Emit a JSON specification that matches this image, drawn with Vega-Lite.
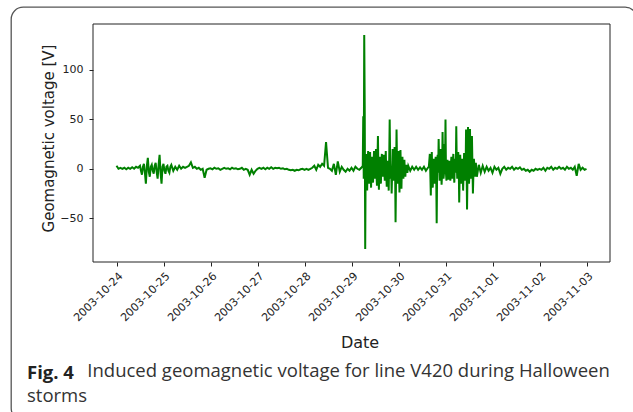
{
  "$schema": "https://vega.github.io/schema/vega-lite/v6.json",
  "width": 626,
  "height": 413,
  "autosize": {"type": "none"},
  "padding": {"left": 11, "top": 7, "right": -4, "bottom": -8},
  "background": "white",
  "config": {
    "view": {"stroke": "#555555", "strokeWidth": 1.3, "cornerRadius": 12},
    "font": "DejaVu Sans"
  },
  "title": {
    "text": "Fig. 4",
    "subtitle": ["\u200b\u2003\u2003\u2003\u00a0Induced geomagnetic voltage for line V420 during Halloween", "storms"],
    "orient": "bottom",
    "anchor": "start",
    "frame": "group",
    "offset": -56,
    "dx": 16,
    "font": "Open Sans",
    "fontSize": 18.5,
    "fontWeight": "bold",
    "color": "#222222",
    "subtitleFont": "Open Sans",
    "subtitleFontSize": 18.5,
    "subtitleFontWeight": "normal",
    "subtitleColor": "#333333",
    "subtitlePadding": -20.5,
    "subtitleLineHeight": 25,
    "baseline": "top"
  },
  "data": {"values": [
    {"t":"2003-10-24T00:00","v":3},{"t":"2003-10-24T01:00","v":0},{"t":"2003-10-24T02:00","v":1},{"t":"2003-10-24T03:00","v":0},
    {"t":"2003-10-24T04:00","v":1},{"t":"2003-10-24T05:00","v":-0.5},{"t":"2003-10-24T06:00","v":1},{"t":"2003-10-24T07:00","v":0},
    {"t":"2003-10-24T08:00","v":1.5},{"t":"2003-10-24T09:00","v":0},{"t":"2003-10-24T10:00","v":2},{"t":"2003-10-24T11:00","v":1},
    {"t":"2003-10-24T12:00","v":3},{"t":"2003-10-24T13:00","v":-6},{"t":"2003-10-24T14:00","v":5},{"t":"2003-10-24T15:00","v":-15},
    {"t":"2003-10-24T16:00","v":11},{"t":"2003-10-24T17:00","v":-8},{"t":"2003-10-24T18:00","v":4},{"t":"2003-10-24T19:00","v":-5},
    {"t":"2003-10-24T20:00","v":6},{"t":"2003-10-24T21:00","v":-10},{"t":"2003-10-24T22:00","v":14},{"t":"2003-10-24T23:00","v":-15},
    {"t":"2003-10-25T00:00","v":5},{"t":"2003-10-25T01:00","v":-5},{"t":"2003-10-25T02:00","v":3},{"t":"2003-10-25T03:00","v":-4},
    {"t":"2003-10-25T04:00","v":4},{"t":"2003-10-25T05:00","v":-2},{"t":"2003-10-25T06:00","v":2},{"t":"2003-10-25T07:00","v":-1},
    {"t":"2003-10-25T08:00","v":3},{"t":"2003-10-25T09:00","v":0},{"t":"2003-10-25T10:00","v":2},{"t":"2003-10-25T11:00","v":1},
    {"t":"2003-10-25T12:00","v":2},{"t":"2003-10-25T13:00","v":3},{"t":"2003-10-25T14:00","v":6.5},{"t":"2003-10-25T15:00","v":1},
    {"t":"2003-10-25T16:00","v":2},{"t":"2003-10-25T17:00","v":0},{"t":"2003-10-25T18:00","v":1},{"t":"2003-10-25T19:00","v":-1},
    {"t":"2003-10-25T20:00","v":0},{"t":"2003-10-25T21:00","v":-9},{"t":"2003-10-25T22:00","v":-1},{"t":"2003-10-25T23:00","v":0},
    {"t":"2003-10-26T00:00","v":0.5},{"t":"2003-10-26T01:00","v":-0.5},{"t":"2003-10-26T02:00","v":1},{"t":"2003-10-26T03:00","v":0},
    {"t":"2003-10-26T04:00","v":0.5},{"t":"2003-10-26T05:00","v":-1},{"t":"2003-10-26T06:00","v":0},{"t":"2003-10-26T07:00","v":1},
    {"t":"2003-10-26T08:00","v":0},{"t":"2003-10-26T09:00","v":0.5},{"t":"2003-10-26T10:00","v":-0.5},{"t":"2003-10-26T11:00","v":1},
    {"t":"2003-10-26T12:00","v":0},{"t":"2003-10-26T13:00","v":0.5},{"t":"2003-10-26T14:00","v":-0.5},{"t":"2003-10-26T15:00","v":0},
    {"t":"2003-10-26T16:00","v":1},{"t":"2003-10-26T17:00","v":-1},{"t":"2003-10-26T18:00","v":0},{"t":"2003-10-26T19:00","v":-1},
    {"t":"2003-10-26T20:00","v":-6},{"t":"2003-10-26T21:00","v":-1},{"t":"2003-10-26T22:00","v":-5},{"t":"2003-10-26T23:00","v":-2},
    {"t":"2003-10-27T00:00","v":0},{"t":"2003-10-27T01:00","v":1},{"t":"2003-10-27T02:00","v":0},{"t":"2003-10-27T03:00","v":1},
    {"t":"2003-10-27T04:00","v":-0.5},{"t":"2003-10-27T05:00","v":1},{"t":"2003-10-27T06:00","v":0},{"t":"2003-10-27T07:00","v":1.5},
    {"t":"2003-10-27T08:00","v":0},{"t":"2003-10-27T09:00","v":1},{"t":"2003-10-27T10:00","v":0.5},{"t":"2003-10-27T11:00","v":1},
    {"t":"2003-10-27T12:00","v":0},{"t":"2003-10-27T13:00","v":0.5},{"t":"2003-10-27T14:00","v":-0.5},{"t":"2003-10-27T15:00","v":0},
    {"t":"2003-10-27T16:00","v":-1},{"t":"2003-10-27T17:00","v":-1.5},{"t":"2003-10-27T18:00","v":-1},{"t":"2003-10-27T19:00","v":-2},
    {"t":"2003-10-27T20:00","v":-1},{"t":"2003-10-27T21:00","v":-1.5},{"t":"2003-10-27T22:00","v":-0.5},{"t":"2003-10-27T23:00","v":0},
    {"t":"2003-10-28T00:00","v":-1},{"t":"2003-10-28T01:00","v":0},{"t":"2003-10-28T02:00","v":-1},{"t":"2003-10-28T03:00","v":0},
    {"t":"2003-10-28T04:00","v":1},{"t":"2003-10-28T05:00","v":3},{"t":"2003-10-28T06:00","v":-1},{"t":"2003-10-28T07:00","v":4},
    {"t":"2003-10-28T08:00","v":2},{"t":"2003-10-28T09:00","v":5},{"t":"2003-10-28T10:00","v":3},{"t":"2003-10-28T11:00","v":27},
    {"t":"2003-10-28T12:00","v":1},{"t":"2003-10-28T13:00","v":0},{"t":"2003-10-28T14:00","v":-2},{"t":"2003-10-28T15:00","v":5},
    {"t":"2003-10-28T16:00","v":-6},{"t":"2003-10-28T17:00","v":7.5},{"t":"2003-10-28T18:00","v":-3},{"t":"2003-10-28T19:00","v":2},
    {"t":"2003-10-28T20:00","v":-1},{"t":"2003-10-28T21:00","v":-3},{"t":"2003-10-28T22:00","v":0},{"t":"2003-10-28T23:00","v":-2},
    {"t":"2003-10-29T00:00","v":1},{"t":"2003-10-29T01:00","v":-2},{"t":"2003-10-29T02:00","v":2},{"t":"2003-10-29T03:00","v":0},
    {"t":"2003-10-29T04:00","v":-1},{"t":"2003-10-29T05:00","v":1},{"t":"2003-10-29T05:45","v":3},{"t":"2003-10-29T06:00","v":53},
    {"t":"2003-10-29T06:15","v":-10},{"t":"2003-10-29T06:30","v":135},{"t":"2003-10-29T06:45","v":63},{"t":"2003-10-29T07:00","v":-81},
    {"t":"2003-10-29T07:15","v":10},{"t":"2003-10-29T07:30","v":-20},{"t":"2003-10-29T07:45","v":15},{"t":"2003-10-29T08:00","v":-22},
    {"t":"2003-10-29T08:30","v":18},{"t":"2003-10-29T09:00","v":-15},{"t":"2003-10-29T09:30","v":17},{"t":"2003-10-29T10:00","v":-19},
    {"t":"2003-10-29T10:30","v":12},{"t":"2003-10-29T11:00","v":-14},{"t":"2003-10-29T11:30","v":18},{"t":"2003-10-29T12:00","v":-10},
    {"t":"2003-10-29T12:30","v":20},{"t":"2003-10-29T13:00","v":-17},{"t":"2003-10-29T13:30","v":33},{"t":"2003-10-29T14:00","v":-21},
    {"t":"2003-10-29T14:30","v":12},{"t":"2003-10-29T15:00","v":-15},{"t":"2003-10-29T15:30","v":15},{"t":"2003-10-29T16:00","v":-8},
    {"t":"2003-10-29T16:30","v":14},{"t":"2003-10-29T17:00","v":-12},{"t":"2003-10-29T17:30","v":18},{"t":"2003-10-29T18:00","v":-18},
    {"t":"2003-10-29T18:30","v":8},{"t":"2003-10-29T19:00","v":-22},{"t":"2003-10-29T19:30","v":49.6},{"t":"2003-10-29T20:00","v":-10},
    {"t":"2003-10-29T20:30","v":-25},{"t":"2003-10-29T21:00","v":20},{"t":"2003-10-29T21:30","v":-12},{"t":"2003-10-29T22:00","v":22},
    {"t":"2003-10-29T22:30","v":-54},{"t":"2003-10-29T23:00","v":39.5},{"t":"2003-10-29T23:30","v":-15},
    {"t":"2003-10-30T00:00","v":18},{"t":"2003-10-30T00:30","v":-24},{"t":"2003-10-30T01:00","v":19},{"t":"2003-10-30T01:30","v":-20},
    {"t":"2003-10-30T02:00","v":12},{"t":"2003-10-30T02:30","v":-10},{"t":"2003-10-30T03:00","v":9},{"t":"2003-10-30T03:30","v":-8},
    {"t":"2003-10-30T04:00","v":4},{"t":"2003-10-30T04:30","v":-4},{"t":"2003-10-30T05:00","v":3},{"t":"2003-10-30T06:00","v":-2},
    {"t":"2003-10-30T07:00","v":2},{"t":"2003-10-30T08:00","v":-1},{"t":"2003-10-30T09:00","v":2},{"t":"2003-10-30T10:00","v":-1},
    {"t":"2003-10-30T11:00","v":1.5},{"t":"2003-10-30T12:00","v":-1},{"t":"2003-10-30T13:00","v":2},{"t":"2003-10-30T14:00","v":-2},
    {"t":"2003-10-30T15:00","v":1},{"t":"2003-10-30T15:30","v":2},{"t":"2003-10-30T16:00","v":15},{"t":"2003-10-30T16:30","v":-27},
    {"t":"2003-10-30T17:00","v":17},{"t":"2003-10-30T17:30","v":-19},{"t":"2003-10-30T18:00","v":10},{"t":"2003-10-30T18:30","v":-15},
    {"t":"2003-10-30T19:00","v":12},{"t":"2003-10-30T19:30","v":-55},{"t":"2003-10-30T20:00","v":14},{"t":"2003-10-30T20:30","v":30},
    {"t":"2003-10-30T21:00","v":-12},{"t":"2003-10-30T21:30","v":20},{"t":"2003-10-30T22:00","v":-16},{"t":"2003-10-30T22:30","v":37},
    {"t":"2003-10-30T23:00","v":-10},{"t":"2003-10-30T23:30","v":25},
    {"t":"2003-10-31T00:00","v":49.6},{"t":"2003-10-31T00:30","v":-12},{"t":"2003-10-31T01:00","v":9},{"t":"2003-10-31T01:30","v":-11},
    {"t":"2003-10-31T02:00","v":8},{"t":"2003-10-31T02:30","v":-12},{"t":"2003-10-31T03:00","v":12},{"t":"2003-10-31T03:30","v":-10},
    {"t":"2003-10-31T04:00","v":15},{"t":"2003-10-31T04:30","v":-14},{"t":"2003-10-31T05:00","v":10},{"t":"2003-10-31T05:30","v":43},
    {"t":"2003-10-31T06:00","v":-10},{"t":"2003-10-31T06:30","v":17},{"t":"2003-10-31T07:00","v":-34},{"t":"2003-10-31T07:30","v":14},
    {"t":"2003-10-31T08:00","v":-15},{"t":"2003-10-31T08:30","v":10},{"t":"2003-10-31T09:00","v":-22},{"t":"2003-10-31T09:30","v":16},
    {"t":"2003-10-31T10:00","v":-12},{"t":"2003-10-31T10:30","v":39.5},{"t":"2003-10-31T11:00","v":-41},{"t":"2003-10-31T11:30","v":42},
    {"t":"2003-10-31T12:00","v":-15},{"t":"2003-10-31T12:30","v":40},{"t":"2003-10-31T13:00","v":-10},{"t":"2003-10-31T13:30","v":33},
    {"t":"2003-10-31T14:00","v":-25},{"t":"2003-10-31T14:30","v":10},{"t":"2003-10-31T15:00","v":-8},{"t":"2003-10-31T15:30","v":6},
    {"t":"2003-10-31T16:00","v":-8},{"t":"2003-10-31T17:00","v":4},{"t":"2003-10-31T18:00","v":-4},{"t":"2003-10-31T19:00","v":3},
    {"t":"2003-10-31T20:00","v":-3},{"t":"2003-10-31T21:00","v":2},{"t":"2003-10-31T22:00","v":-2},{"t":"2003-10-31T23:00","v":1},
    {"t":"2003-11-01T00:00","v":-4},{"t":"2003-11-01T01:00","v":2},{"t":"2003-11-01T02:00","v":-1},{"t":"2003-11-01T03:00","v":1},
    {"t":"2003-11-01T04:00","v":-5},{"t":"2003-11-01T05:00","v":0},{"t":"2003-11-01T06:00","v":2},{"t":"2003-11-01T07:00","v":-1},
    {"t":"2003-11-01T08:00","v":1},{"t":"2003-11-01T09:00","v":0},{"t":"2003-11-01T10:00","v":2},{"t":"2003-11-01T11:00","v":-1},
    {"t":"2003-11-01T12:00","v":1},{"t":"2003-11-01T13:00","v":0},{"t":"2003-11-01T14:00","v":1.5},{"t":"2003-11-01T15:00","v":-1},
    {"t":"2003-11-01T16:00","v":0},{"t":"2003-11-01T17:00","v":-2},{"t":"2003-11-01T18:00","v":-1},{"t":"2003-11-01T19:00","v":-3},
    {"t":"2003-11-01T20:00","v":-1},{"t":"2003-11-01T21:00","v":-2},{"t":"2003-11-01T22:00","v":0},{"t":"2003-11-01T23:00","v":-1},
    {"t":"2003-11-02T00:00","v":0},{"t":"2003-11-02T01:00","v":-1},{"t":"2003-11-02T02:00","v":1},{"t":"2003-11-02T03:00","v":-2},
    {"t":"2003-11-02T04:00","v":1},{"t":"2003-11-02T05:00","v":0},{"t":"2003-11-02T06:00","v":2},{"t":"2003-11-02T07:00","v":-1},
    {"t":"2003-11-02T08:00","v":1},{"t":"2003-11-02T09:00","v":0},{"t":"2003-11-02T10:00","v":2},{"t":"2003-11-02T11:00","v":0},
    {"t":"2003-11-02T12:00","v":1},{"t":"2003-11-02T13:00","v":-1},{"t":"2003-11-02T14:00","v":2},{"t":"2003-11-02T15:00","v":0},
    {"t":"2003-11-02T16:00","v":1},{"t":"2003-11-02T17:00","v":-1},{"t":"2003-11-02T18:00","v":2},{"t":"2003-11-02T19:00","v":-7},
    {"t":"2003-11-02T20:00","v":5},{"t":"2003-11-02T21:00","v":-1},{"t":"2003-11-02T22:00","v":1},{"t":"2003-11-02T23:00","v":-1},
    {"t":"2003-11-03T00:00","v":0},
    {"t":"2003-10-24T12:30","v":-2},{"t":"2003-10-24T13:30","v":2},{"t":"2003-10-24T14:30","v":-4},{"t":"2003-10-24T15:30","v":3},
    {"t":"2003-10-24T16:30","v":-3},{"t":"2003-10-24T17:30","v":2},{"t":"2003-10-24T18:30","v":-2},{"t":"2003-10-24T19:30","v":3},
    {"t":"2003-10-24T20:30","v":-3},{"t":"2003-10-24T21:30","v":4},{"t":"2003-10-24T22:30","v":-4},{"t":"2003-10-24T23:30","v":2},
    {"t":"2003-10-25T00:30","v":-2},{"t":"2003-10-25T01:30","v":2},{"t":"2003-10-25T02:30","v":-2},{"t":"2003-10-25T03:30","v":2},
    {"t":"2003-10-29T08:15","v":5},{"t":"2003-10-29T08:45","v":-8},{"t":"2003-10-29T09:15","v":3},{"t":"2003-10-29T09:45","v":-5},
    {"t":"2003-10-29T10:15","v":6},{"t":"2003-10-29T10:45","v":-3},{"t":"2003-10-29T11:15","v":4},{"t":"2003-10-29T11:45","v":-6},
    {"t":"2003-10-29T12:15","v":2},{"t":"2003-10-29T12:45","v":-5},{"t":"2003-10-29T13:15","v":8},{"t":"2003-10-29T13:45","v":-4},
    {"t":"2003-10-29T14:15","v":5},{"t":"2003-10-29T14:45","v":-6},{"t":"2003-10-29T15:15","v":3},{"t":"2003-10-29T15:45","v":-4},
    {"t":"2003-10-29T16:15","v":6},{"t":"2003-10-29T16:45","v":-3},{"t":"2003-10-29T17:15","v":4},{"t":"2003-10-29T17:45","v":-5},
    {"t":"2003-10-29T18:15","v":3},{"t":"2003-10-29T18:45","v":-6},{"t":"2003-10-29T19:15","v":8},{"t":"2003-10-29T19:45","v":5},
    {"t":"2003-10-29T20:15","v":2},{"t":"2003-10-29T20:45","v":-4},{"t":"2003-10-29T21:15","v":6},{"t":"2003-10-29T21:45","v":-3},
    {"t":"2003-10-29T22:15","v":5},{"t":"2003-10-29T22:45","v":-8},{"t":"2003-10-29T23:15","v":6},{"t":"2003-10-29T23:45","v":3},
    {"t":"2003-10-30T00:15","v":-4},{"t":"2003-10-30T00:45","v":5},{"t":"2003-10-30T01:15","v":-3},{"t":"2003-10-30T01:45","v":4},
    {"t":"2003-10-30T02:15","v":-2},{"t":"2003-10-30T02:45","v":3},{"t":"2003-10-30T03:15","v":-2},{"t":"2003-10-30T03:45","v":2},
    {"t":"2003-10-30T16:15","v":-5},{"t":"2003-10-30T16:45","v":4},{"t":"2003-10-30T17:15","v":-6},{"t":"2003-10-30T17:45","v":5},
    {"t":"2003-10-30T18:15","v":-3},{"t":"2003-10-30T18:45","v":4},{"t":"2003-10-30T19:15","v":-5},{"t":"2003-10-30T19:45","v":3},
    {"t":"2003-10-30T20:15","v":-4},{"t":"2003-10-30T20:45","v":5},{"t":"2003-10-30T21:15","v":-3},{"t":"2003-10-30T21:45","v":4},
    {"t":"2003-10-30T22:15","v":-5},{"t":"2003-10-30T22:45","v":6},{"t":"2003-10-30T23:15","v":-4},{"t":"2003-10-30T23:45","v":3},
    {"t":"2003-10-31T00:15","v":-5},{"t":"2003-10-31T00:45","v":4},{"t":"2003-10-31T01:15","v":-3},{"t":"2003-10-31T01:45","v":5},
    {"t":"2003-10-31T02:15","v":-4},{"t":"2003-10-31T02:45","v":3},{"t":"2003-10-31T03:15","v":-5},{"t":"2003-10-31T03:45","v":4},
    {"t":"2003-10-31T04:15","v":-3},{"t":"2003-10-31T04:45","v":5},{"t":"2003-10-31T05:15","v":-4},{"t":"2003-10-31T05:45","v":6},
    {"t":"2003-10-31T06:15","v":-3},{"t":"2003-10-31T06:45","v":4},{"t":"2003-10-31T07:15","v":-5},{"t":"2003-10-31T07:45","v":3},
    {"t":"2003-10-31T08:15","v":-4},{"t":"2003-10-31T08:45","v":5},{"t":"2003-10-31T09:15","v":-3},{"t":"2003-10-31T09:45","v":4},
    {"t":"2003-10-31T10:15","v":-6},{"t":"2003-10-31T10:45","v":5},{"t":"2003-10-31T11:15","v":-4},{"t":"2003-10-31T11:45","v":3},
    {"t":"2003-10-31T12:15","v":-5},{"t":"2003-10-31T12:45","v":6},{"t":"2003-10-31T13:15","v":-3},{"t":"2003-10-31T13:45","v":4},
    {"t":"2003-10-31T14:15","v":-5},{"t":"2003-10-31T14:45","v":3}
  ]},
  "layer": [
    {
      "mark": {"type": "line", "color": "#008000", "strokeWidth": 2},
      "encoding": {
        "x": {
          "field": "t", "type": "temporal",
          "scale": {"domain": [{"year": 2003, "month": 10, "date": 23, "hours": 12}, {"year": 2003, "month": 11, "date": 3, "hours": 12}], "range": [82, 599], "nice": false},
          "axis": {
            "orient": "bottom", "offset": -158,
            "values": [
              {"year": 2003, "month": 10, "date": 24}, {"year": 2003, "month": 10, "date": 25}, {"year": 2003, "month": 10, "date": 26},
              {"year": 2003, "month": 10, "date": 27}, {"year": 2003, "month": 10, "date": 28}, {"year": 2003, "month": 10, "date": 29},
              {"year": 2003, "month": 10, "date": 30}, {"year": 2003, "month": 10, "date": 31}, {"year": 2003, "month": 11, "date": 1},
              {"year": 2003, "month": 11, "date": 2}, {"year": 2003, "month": 11, "date": 3}
            ],
            "format": "%Y-%m-%d",
            "labelAngle": -45, "labelAlign": "right", "labelBaseline": "top",
            "labelFontSize": 11, "labelColor": "#222222", "labelPadding": 4,
            "labelFlush": false, "labelOverlap": false,
            "tickSize": 4, "tickColor": "#222222", "tickWidth": 1,
            "domain": false, "grid": false,
            "title": "Date", "titleFontSize": 16, "titleFontWeight": "normal", "titleColor": "#222222",
            "titleX": 348.5, "titleY": 85, "titleBaseline": "alphabetic", "titleAlign": "center"
          }
        },
        "y": {
          "field": "v", "type": "quantitative",
          "scale": {"domain": [-94, 146], "range": [255, 17], "nice": false, "zero": false},
          "axis": {
            "orient": "left", "offset": -82,
            "values": [-50, 0, 50, 100],
            "labelExpr": "replace(datum.label, '-', '\u2212')",
            "labelFontSize": 11, "labelColor": "#222222", "labelPadding": 6,
            "tickSize": 4, "tickColor": "#222222", "tickWidth": 1,
            "domain": false, "grid": false,
            "title": "Geomagnetic voltage [V]", "titleFontSize": 15, "titleFontWeight": "normal", "titleColor": "#222222",
            "titleX": -40, "titleY": 131, "titleBaseline": "alphabetic", "titleAngle": -90, "titleAlign": "center"
          }
        }
      }
    },
    {
      "data": {"values": [{}]},
      "mark": {"type": "rect", "fill": null, "stroke": "#222222", "strokeWidth": 1},
      "encoding": {
        "x": {"datum": {"year": 2003, "month": 10, "date": 23, "hours": 12}, "type": "temporal"},
        "x2": {"datum": {"year": 2003, "month": 11, "date": 3, "hours": 12}},
        "y": {"datum": -94, "type": "quantitative"},
        "y2": {"datum": 146}
      }
    }
  ]
}
